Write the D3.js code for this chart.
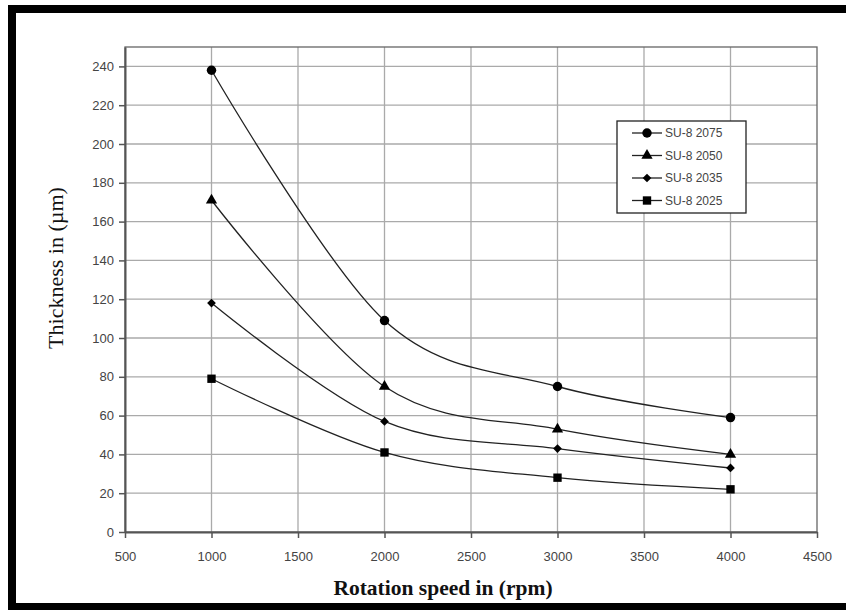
<!DOCTYPE html>
<html>
<head>
<meta charset="utf-8">
<script src="https://cdn.jsdelivr.net/npm/d3@7"></script>
<style>
  body { margin: 0; background: #fff; }
  svg { display: block; }
</style>
</head>
<body>
<div id="chart"></div>
<script>
// rotation speeds (rpm) and film thickness (um) per resist
var speeds = [1000, 2000, 3000, 4000];
var names = ['SU-8 2075', 'SU-8 2050', 'SU-8 2035', 'SU-8 2025'];
var su2075 = [238, 109, 75, 59];
var su2050 = [171, 75, 53, 40];
var su2035 = [118, 57, 43, 33];
var su2025 = [79, 41, 28, 22];
var xTicks = [500, 1000, 1500, 2000, 2500, 3000, 3500, 4000, 4500];
var yTicks = [0, 20, 40, 60, 80, 100, 120, 140, 160, 180, 200, 220, 240];

var series = [su2075, su2050, su2035, su2025];
// diamond drawn as a square turned 45 degrees
var symbols = [d3.symbolCircle, d3.symbolTriangle, d3.symbolSquare, d3.symbolSquare];
var symSizes = [70, 55, 38, 70];
var symRotate = [0, 0, 45, 0];

var width = 846, height = 610;
var margin = { left: 125, right: 29, top: 47, bottom: 78 };

var svg = d3.select('#chart').append('svg')
   .attr('width', width)
   .attr('height', height);

// thick black frame
svg.append('rect').attr('x', 8).attr('y', 5).attr('width', 8).attr('height', 605).attr('fill', '#000');
svg.append('rect').attr('x', 8).attr('y', 5).attr('width', 838).attr('height', 8).attr('fill', '#000');
svg.append('rect').attr('x', 8).attr('y', 603).attr('width', 838).attr('height', 7).attr('fill', '#000');

var x = d3.scaleLinear().domain([500, 4500]).range([margin.left, width - margin.right]);
var y = d3.scaleLinear().domain([0, 250]).range([height - margin.bottom, margin.top]);

var g = svg.append('g');

// gridlines
g.selectAll('.hgrid')
   .data(yTicks.slice(1))
   .enter().append('line')
   .attr('x1', x(500)).attr('x2', x(4500))
   .attr('y1', function(d) { return y(d) }).attr('y2', function(d) { return y(d) })
   .attr('stroke', '#aaa').attr('stroke-width', 1.3);

g.selectAll('.vgrid')
   .data(xTicks.slice(1, -1))
   .enter().append('line')
   .attr('y1', y(0)).attr('y2', y(250))
   .attr('x1', function(d) { return x(d) }).attr('x2', function(d) { return x(d) })
   .attr('stroke', '#aaa').attr('stroke-width', 1.3);

// plot frame
g.append('rect')
   .attr('x', x(500)).attr('y', y(250))
   .attr('width', x(4500) - x(500)).attr('height', y(0) - y(250))
   .attr('fill', 'none').attr('stroke', '#666').attr('stroke-width', 1.3);

// axes
var xAxis = g.append('g')
   .attr('transform', 'translate(0,' + y(0) + ')')
   .call(d3.axisBottom(x).tickValues(xTicks).tickFormat(d3.format('d'))
      .tickSize(6).tickSizeOuter(0).tickPadding(14));
var yAxis = g.append('g')
   .attr('transform', 'translate(' + x(500) + ',0)')
   .call(d3.axisLeft(y).tickValues(yTicks).tickSize(6).tickSizeOuter(0).tickPadding(5));

[xAxis, yAxis].forEach(function(a) {
   a.select('.domain').attr('stroke', '#555').attr('stroke-width', 2);
   a.selectAll('.tick line').attr('stroke', '#555').attr('stroke-width', 1.5);
   a.selectAll('.tick text')
      .attr('fill', '#444')
      .style('font-family', 'Liberation Sans, Arial, sans-serif')
      .style('font-size', '13px');
});

// curves
var line = d3.line()
   .x(function(d, i) { return x(speeds[i]) })
   .y(function(d) { return y(d) })
   .curve(d3.curveCatmullRom.alpha(0));

series.forEach(function(s, k) {
   g.append('path')
      .attr('d', line(s))
      .attr('fill', 'none')
      .attr('stroke', '#222')
      .attr('stroke-width', 1.3);

   g.selectAll('.pt' + k)
      .data(s)
      .enter().append('path')
      .attr('transform', function(d, i) {
         return 'translate(' + x(speeds[i]) + ',' + y(d) + ') rotate(' + symRotate[k] + ')'
      })
      .attr('d', d3.symbol().type(symbols[k]).size(symSizes[k]))
      .attr('fill', '#000');
});

// legend
var legend = g.append('g').attr('transform', 'translate(617,121)');
legend.append('rect')
   .attr('width', 129).attr('height', 92)
   .attr('fill', '#fff').attr('stroke', '#222').attr('stroke-width', 1.3);

names.forEach(function(n, k) {
   var ly = 12 + k * 22.5;
   legend.append('line')
      .attr('x1', 15).attr('x2', 45).attr('y1', ly).attr('y2', ly)
      .attr('stroke', '#222').attr('stroke-width', 1.3);
   legend.append('path')
      .attr('transform', 'translate(30,' + ly + ') rotate(' + symRotate[k] + ')')
      .attr('d', d3.symbol().type(symbols[k]).size(symSizes[k]))
      .attr('fill', '#000');
   legend.append('text')
      .attr('x', 48).attr('y', ly).attr('dy', '0.36em')
      .attr('fill', '#444')
      .style('font-family', 'Liberation Sans, Arial, sans-serif')
      .style('font-size', '12px')
      .text(n);
});

// axis titles
svg.append('text')
   .attr('x', 443).attr('y', 595)
   .attr('text-anchor', 'middle')
   .style('font-family', 'Liberation Serif, Times New Roman, serif')
   .style('font-size', '21.5px')
   .style('font-weight', 'bold')
   .attr('fill', '#111')
   .text('Rotation speed in (rpm)');

svg.append('text')
   .attr('transform', 'translate(63,268) rotate(-90)')
   .attr('text-anchor', 'middle')
   .style('font-family', 'Liberation Serif, Times New Roman, serif')
   .style('font-size', '22px')
   .attr('fill', '#111')
   .text('Thickness in (µm)');
</script>
</body>
</html>
